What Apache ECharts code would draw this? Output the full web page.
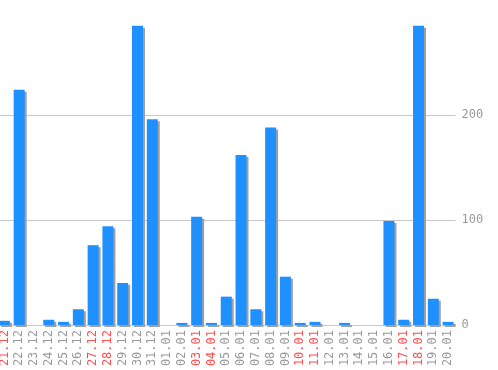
<!DOCTYPE html>
<html>
<head>
<meta charset="utf-8">
<script src="https://cdn.jsdelivr.net/npm/echarts@6/dist/echarts.min.js"></script>
<style>html,body{margin:0;padding:0;background:#fff;overflow:hidden;}#c{position:absolute;left:-3px;top:0;width:501px;height:370px;}</style>
</head>
<body>
<div id="c"></div>
<script>
const categories = ['21.12','22.12','23.12','24.12','25.12','26.12','27.12','28.12','29.12','30.12','31.12',
  '01.01','02.01','03.01','04.01','05.01','06.01','07.01','08.01','09.01','10.01','11.01','12.01','13.01',
  '14.01','15.01','16.01','17.01','18.01','19.01','20.01'];
const values = [4,224,0,5,3,15,76,94,40,285,196,
  0,2,103,2,27,162,15,188,46,2,3,0,2,
  0,0,99,5,285,25,3];
const weekendLabels = ['21.12','27.12','28.12','03.01','04.01','10.01','11.01','17.01','18.01'];
const yTicks = [0,100,200];

const chart = echarts.init(document.getElementById('c'), null, {renderer:'canvas'});
chart.setOption({
  animation:false,
  backgroundColor:'#ffffff',
  grid:{left:0, right:42.5, top:10, bottom:45, containLabel:false},
  xAxis:{
    type:'category',
    data:categories,
    axisLine:{show:true, lineStyle:{color:'#c8c8c8', width:1}},
    axisTick:{show:false},
    axisLabel:{
      interval:0, rotate:90, margin:5,
      fontFamily:'DejaVu Sans Mono', fontSize:12,
      color:function(v){ return weekendLabels.indexOf(v) >= 0 ? '#ff4d4d' : '#999999'; }
    },
    splitLine:{show:false}
  },
  yAxis:{
    type:'value',
    position:'right',
    min:0, max:300, interval:100,
    axisLine:{show:false},
    axisTick:{show:false},
    axisLabel:{
      margin:6, fontFamily:'DejaVu Sans Mono', fontSize:12, color:'#999999',
      showMaxLabel:false,
      formatter:function(v){ return yTicks.indexOf(v) >= 0 ? String(v) : ''; }
    },
    splitLine:{show:true, showMaxLine:false, lineStyle:{color:'#c8c8c8', width:1}}
  },
  series:[{
    type:'bar',
    data:values,
    barWidth:11,
    itemStyle:{
      color:'#1e90ff',
      shadowColor:'#a0a0a0',
      shadowBlur:0,
      shadowOffsetX:2,
      shadowOffsetY:2
    }
  }]
});
</script>
</body>
</html>
